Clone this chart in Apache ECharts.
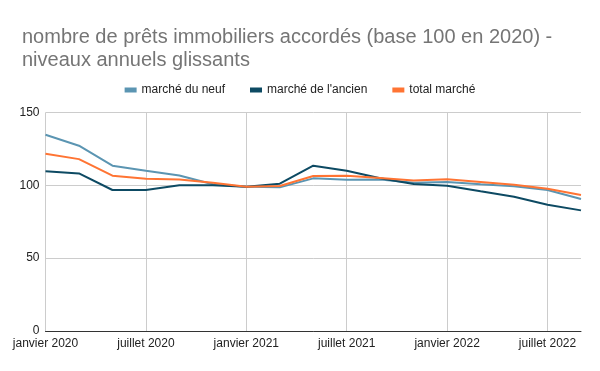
<!DOCTYPE html>
<html><head><meta charset="utf-8">
<script src="https://cdn.jsdelivr.net/npm/echarts@6/dist/echarts.min.js"></script>
<style>html,body{margin:0;padding:0;background:#fff}#c{width:600px;height:371px}</style>
</head><body><div id="c"></div>
<script>
const categories = ["janvier 2020","mars 2020","mai 2020","juillet 2020","septembre 2020","novembre 2020",
  "janvier 2021","mars 2021","mai 2021","juillet 2021","septembre 2021","novembre 2021",
  "janvier 2022","mars 2022","mai 2022","juillet 2022","septembre 2022"];
const neuf = [134.7,127.2,113.5,110,106.8,100.8,99,98.6,104.8,103.9,104,101.8,102.3,100.7,99.3,96.8,90.6];
const ancien = [109.6,108.2,96.8,96.8,100,100,99,101.1,113.5,110,104.8,100.9,99.7,95.9,92.2,86.7,82.8];
const total = [121.7,118,106.6,104.5,104,101.8,99,99.5,106.4,106.6,105,103.4,104.1,102.3,100.4,97.7,93.3];
const yTicks = [0,50,100,150];

const chart = echarts.init(document.getElementById('c'), null, {renderer:'canvas'});
const font = '"Liberation Sans", Arial, sans-serif';
chart.setOption({
  animation:false,
  textStyle:{fontFamily:font},
  title:{
    text:"nombre de prêts immobiliers accordés (base 100 en 2020) -\nniveaux annuels glissants",
    left:17, top:21,
    textStyle:{fontFamily:font,fontSize:20,fontWeight:'normal',color:'#757575',lineHeight:23}
  },
  legend:{
    top:79, left:'center',
    itemWidth:12, itemHeight:5, itemGap:25,
    icon:'rect',
    textStyle:{fontFamily:font,fontSize:12,color:'#222'},
    data:["marché du neuf","marché de l'ancien","total marché"]
  },
  grid:{left:45.5,right:19,top:112.5,bottom:40,containLabel:false},
  xAxis:{
    type:'category', boundaryGap:false, data:categories,
    axisLine:{show:true,lineStyle:{color:'#333',width:1}},
    axisTick:{show:false},
    axisLabel:{interval:2,color:'#222',fontSize:12,fontFamily:font,margin:7},
    splitLine:{show:true,interval:2,lineStyle:{color:'#ccc',width:1}}
  },
  yAxis:{
    type:'value', min:yTicks[0], max:yTicks[yTicks.length-1], interval:50,
    axisLine:{show:false}, axisTick:{show:false},
    axisLabel:{color:'#222',fontSize:12,fontFamily:font,margin:6},
    splitLine:{show:true,lineStyle:{color:'#ccc',width:1}}
  },
  series:[
    {name:"marché du neuf",type:'line',data:neuf,showSymbol:false,symbol:'none',lineStyle:{width:2,color:'#5b95b2'},itemStyle:{color:'#5b95b2'}},
    {name:"marché de l'ancien",type:'line',data:ancien,showSymbol:false,symbol:'none',lineStyle:{width:2,color:'#0d4a63'},itemStyle:{color:'#0d4a63'}},
    {name:"total marché",type:'line',data:total,showSymbol:false,symbol:'none',lineStyle:{width:2,color:'#ff7433'},itemStyle:{color:'#ff7433'}}
  ]
});
</script></body></html>
